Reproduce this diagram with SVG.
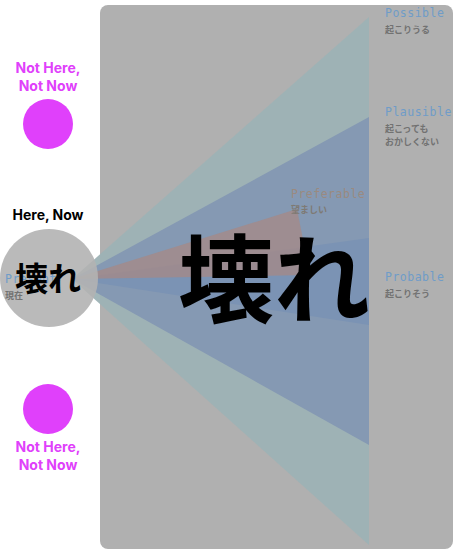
<svg xmlns="http://www.w3.org/2000/svg" width="455" height="556" viewBox="0 0 455 556">
<style>
.lbl{font-family:"DejaVu Sans Mono","Liberation Mono",monospace;font-size:11.5px;fill:#6f9cc8;letter-spacing:0.5px}
.jp{font-family:"Noto Sans CJK JP",sans-serif;font-size:9px;fill:#727272;font-weight:bold}
.nh{font-family:"Inter","Liberation Sans",sans-serif;font-size:14px;font-weight:bold;fill:#e040fb;text-anchor:middle}
</style>
<rect width="455" height="556" fill="#fff"/>
<g id="frame"><rect x="100" y="5" width="353" height="544" rx="8" fill="#b0b0b0"/></g>
<g id="cones">
<polygon id="possible-cone" points="72,279 369,17 369,545" fill="#9db2b5" opacity="0.95"/>
<polygon id="plausible-cone" points="72,279 369,117 369,445" fill="#8599b3"/>
<polygon id="probable-cone" points="72,279 369,238 369,325" fill="#7b93b4"/>
<polygon id="preferable-cone" points="72,279 297,209 310,275" fill="#a48a88" opacity="0.8"/>
</g>
<g id="present">
<circle cx="49" cy="278" r="49" fill="#b3b3b3" opacity="0.9"/>
<text x="5" y="283" class="lbl">Present</text>
<text x="5" y="299" class="jp">現在</text>
</g>
<g id="bigtext"><text x="274" y="315" font-family="Noto Sans CJK JP,sans-serif" font-size="96" font-weight="bold" text-anchor="middle" fill="#000">壊れ</text></g>
<g id="here-now">
<text x="48" y="220" font-family="Inter,Liberation Sans,sans-serif" font-size="14" font-weight="bold" text-anchor="middle" fill="#000">Here, Now</text>
<text x="48" y="291" font-family="Noto Sans CJK JP,sans-serif" font-size="33" font-weight="bold" text-anchor="middle" fill="#000">壊れ</text>
</g>
<g id="possible"><text x="385" y="17" class="lbl">Possible</text><text x="385" y="33" class="jp">起こりうる</text></g>
<g id="plausible"><text x="385" y="116" class="lbl">Plausible</text><text x="385" y="132" class="jp">起こっても</text><text x="385" y="145" class="jp">おかしくない</text></g>
<g id="preferable"><text x="291" y="198" class="lbl" style="fill:#9a8a80">Preferable</text><text x="291" y="213" class="jp" style="fill:#7e7a74">望ましい</text></g>
<g id="probable"><text x="385" y="281" class="lbl">Probable</text><text x="385" y="297" class="jp">起こりそう</text></g>
<g id="not-here-top"><text x="48" y="73" class="nh">Not Here,</text><text x="48" y="91" class="nh">Not Now</text><circle cx="48" cy="124" r="25" fill="#e040fb"/></g>
<g id="not-here-bottom"><circle cx="48" cy="409" r="25" fill="#e040fb"/><text x="48" y="452" class="nh">Not Here,</text><text x="48" y="470" class="nh">Not Now</text></g>
</svg>
